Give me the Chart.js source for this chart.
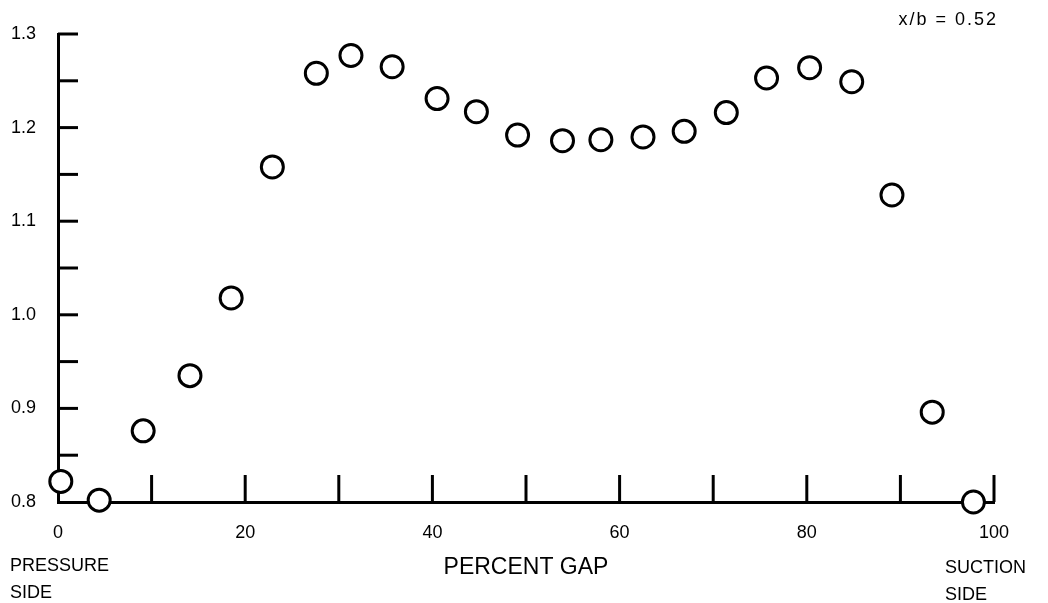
<!DOCTYPE html>
<html>
<head>
<meta charset="utf-8">
<script src="https://cdn.jsdelivr.net/npm/chart.js@4.4.0/dist/chart.umd.min.js"></script>
<style>
  body { margin: 0; background: #fff; }
  #wrap { width: 1048px; height: 603px; position: relative; }
</style>
</head>
<body>
<div id="wrap"><canvas id="GapChart"></canvas></div>
<script>
// percent gap positions and measured ratio
var gapPercent = [0.3, 4.4, 9.1, 14.1, 18.5, 22.9, 27.6, 31.3, 35.7, 40.5, 44.7, 49.1, 53.9, 58.0, 62.5, 66.9, 71.4, 75.7, 80.3, 84.8, 89.1, 93.4, 97.8];
var ratioValues = [0.822, 0.802, 0.876, 0.935, 1.018, 1.158, 1.258, 1.277, 1.265, 1.231, 1.217, 1.192, 1.186, 1.187, 1.190, 1.196, 1.216, 1.253, 1.264, 1.249, 1.128, 0.896, 0.800];

var xTickLabels = ['0', '20', '40', '60', '80', '100'];
var yTickLabels = ['0.8', '0.9', '1.0', '1.1', '1.2', '1.3'];
var xTickMarks = [10, 20, 30, 40, 50, 60, 70, 80, 90, 100];
var yTickMarks = [0.85, 0.9, 0.95, 1.0, 1.05, 1.1, 1.15, 1.2, 1.25, 1.3];

var fontName = "'Liberation Sans', Arial, sans-serif";
var configGap;

// short tick marks pointing into the plot, like the original drawing
var tickMarkPlugin = {
  id: 'tickMarks',
  beforeDatasetsDraw: function(chart) {
    var ctx = chart.ctx;
    var xs = chart.scales.x;
    var ys = chart.scales.y;
    ctx.save();
    ctx.strokeStyle = '#000';
    ctx.lineWidth = 3;
    ctx.lineCap = 'butt';
    xTickMarks.forEach(function(v) {
      var px = xs.getPixelForValue(v);
      ctx.beginPath();
      ctx.moveTo(px, ys.bottom);
      ctx.lineTo(px, ys.bottom - 27);
      ctx.stroke();
    });
    yTickMarks.forEach(function(v) {
      var py = ys.getPixelForValue(v);
      ctx.beginPath();
      ctx.moveTo(xs.left, py);
      ctx.lineTo(xs.left + 20, py);
      ctx.stroke();
    });
    ctx.restore();
  }
};

var sideLabelPlugin = {
  id: 'sideLabels',
  afterDraw: function(chart) {
    var ctx = chart.ctx;
    ctx.save();
    ctx.fillStyle = '#000';
    ctx.font = '18px ' + fontName;
    ctx.textBaseline = 'alphabetic';
    ctx.textAlign = 'left';
    ctx.fillText('PRESSURE', 10, 571);
    ctx.fillText('SIDE', 10, 598);
    ctx.fillText('SUCTION', 945, 573);
    ctx.fillText('SIDE', 945, 600);
    ctx.textAlign = 'right';
    ctx.letterSpacing = '2px';
    ctx.fillText('x/b = 0.52', 998, 25);
    ctx.restore();
  }
};

function buildChart() {
  var points = gapPercent.map(function(g, i) {
    return { x: g, y: ratioValues[i] };
  });

  configGap = {
    type: 'scatter',
    data: {
      datasets: [{
        data: points,
        pointRadius: 11,
        pointHoverRadius: 11,
        pointBorderWidth: 3,
        pointBorderColor: '#000',
        pointBackgroundColor: '#fff',
        clip: false
      }]
    },
    options: {
      responsive: true,
      maintainAspectRatio: false,
      animation: false,
      layout: { padding: { top: 34, right: 54, bottom: 0, left: 0 } },
      plugins: {
        legend: { display: false },
        tooltip: { enabled: false }
      },
      scales: {
        x: {
          type: 'linear',
          min: 0,
          max: 100,
          grid: { display: false },
          border: { display: true, color: '#000', width: 3 },
          ticks: {
            stepSize: 10,
            padding: 12,
            color: '#000',
            maxRotation: 0,
            autoSkip: false,
            font: { family: fontName, size: 18 },
            callback: function(v) {
              var s = String(Math.round(v));
              return xTickLabels.indexOf(s) >= 0 ? s : '';
            }
          },
          title: {
            display: true,
            text: 'PERCENT GAP',
            color: '#000',
            font: { family: fontName, size: 23 },
            padding: { top: 0, bottom: 22 }
          },
          afterFit: function(scale) { scale.height = 101; }
        },
        y: {
          type: 'linear',
          min: 0.8,
          max: 1.3,
          grid: { display: false },
          border: { display: true, color: '#000', width: 3 },
          ticks: {
            stepSize: 0.05,
            padding: 14,
            color: '#000',
            autoSkip: false,
            font: { family: fontName, size: 18 },
            callback: function(v) {
              var t = (Math.round(v * 10) / 10).toFixed(1);
              if (Math.abs(v * 10 - Math.round(v * 10)) > 1e-6) return '';
              return yTickLabels.indexOf(t) >= 0 ? t : '';
            }
          },
          afterFit: function(scale) { scale.width = 58; }
        }
      }
    },
    plugins: [tickMarkPlugin, sideLabelPlugin]
  };

  var ctxGap = document.getElementById('GapChart');
  var chart = Chart.getChart(ctxGap);
  if (chart) {
    chart.destroy();
  }
  chart = new Chart(ctxGap, configGap);
}

buildChart();
</script>
</body>
</html>
